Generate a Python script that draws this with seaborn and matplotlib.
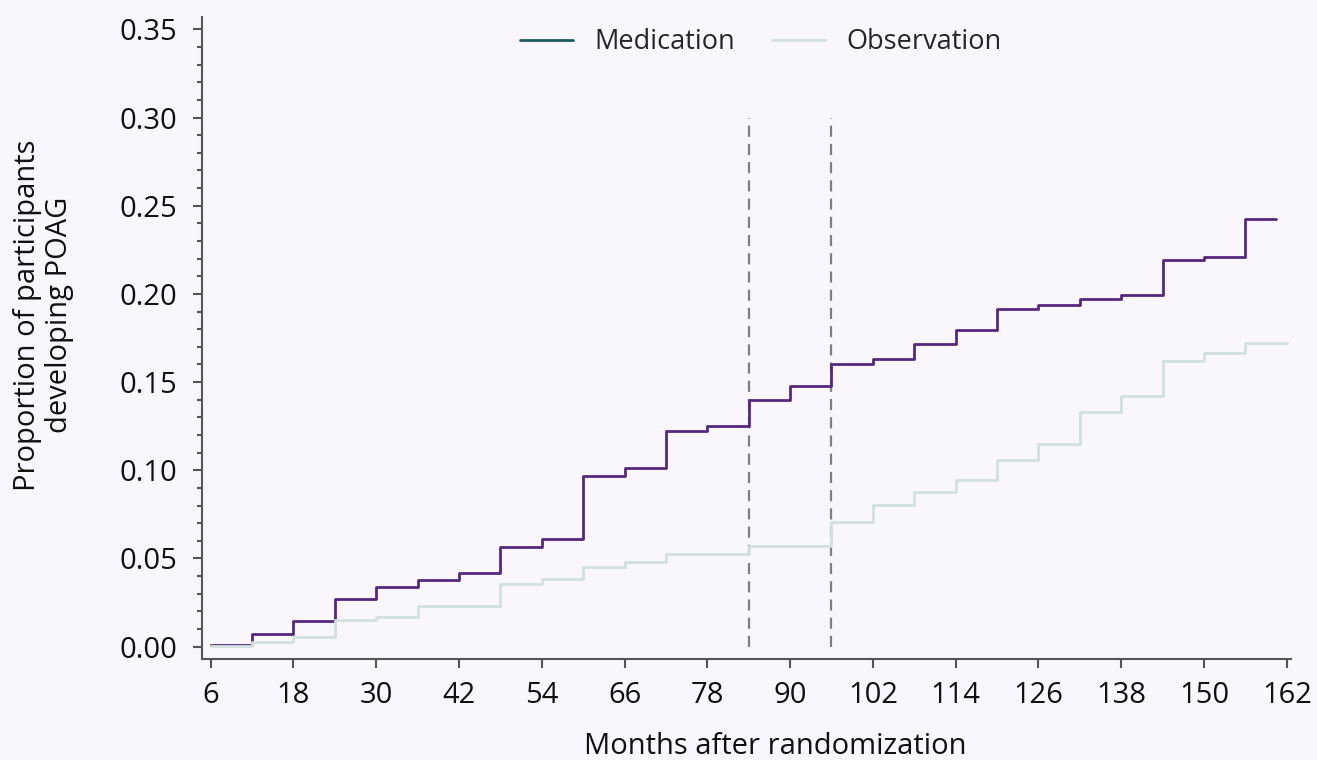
import numpy as np
import pandas as pd
import matplotlib
matplotlib.use("Agg")
import matplotlib.pyplot as plt
from matplotlib.lines import Line2D
from matplotlib.ticker import MultipleLocator
import seaborn as sns

# Cumulative proportion developing POAG, step values at each visit
months_med = [6, 12, 18, 24, 30, 36, 42, 48, 54, 60, 66, 72, 78, 84, 90, 96,
              102, 108, 114, 120, 126, 132, 138, 144, 150, 156, 160.5]
medication = [0.001, 0.0072, 0.0147, 0.027, 0.034, 0.038, 0.042, 0.0565, 0.061,
              0.0968, 0.1013, 0.1223, 0.1253, 0.1399, 0.148, 0.1601, 0.1633,
              0.1718, 0.1796, 0.1913, 0.1936, 0.1971, 0.1994, 0.2191, 0.2210,
              0.2427, 0.2427]

months_obs = [6, 12, 18, 24, 30, 36, 48, 54, 60, 66, 72, 84, 96, 102, 108, 114,
              120, 126, 132, 138, 144, 150, 156, 162]
observation = [0.0002, 0.0028, 0.0057, 0.0151, 0.0167, 0.0231, 0.0355, 0.0382,
               0.045, 0.0482, 0.0526, 0.0571, 0.0707, 0.0803, 0.0877, 0.0945,
               0.1057, 0.115, 0.1331, 0.1423, 0.162, 0.1667, 0.172, 0.172]

groups = ["Medication", "Observation"]
x_ticks = list(range(6, 163, 12))
y_ticks = [0.00, 0.05, 0.10, 0.15, 0.20, 0.25, 0.30, 0.35]
marker_months = [84, 96]

df = pd.concat([
    pd.DataFrame({"month": months_med, "proportion": medication, "group": groups[0]}),
    pd.DataFrame({"month": months_obs, "proportion": observation, "group": groups[1]}),
], ignore_index=True)

bg = "#f9f7fd"
text_color = "#111111"
line_colors = {"Medication": "#56287f", "Observation": "#d0e1de"}
legend_colors = {"Medication": "#1c5b5b", "Observation": "#d0e1de"}
fs = 21

sns.set_theme(style="ticks")
plt.rcParams["font.family"] = ["Open Sans", "DejaVu Sans"]

fig = plt.figure(figsize=(13.17, 7.6), dpi=100, facecolor=bg)
ax = fig.add_axes([0.1534, 0.1329, 0.8269, 0.8447])
ax.set_facecolor(bg)

sns.lineplot(data=df, x="month", y="proportion", hue="group", hue_order=groups,
             palette=line_colors, drawstyle="steps-post", linewidth=2.0,
             legend=False, ax=ax)

for m in marker_months:
    ax.plot([m, m], [0.0, 0.30], color="#7f7f7f", linewidth=1.6,
            dashes=(5.0, 3.2), zorder=1)

ax.set_xlim(4.75, 162.62)
ax.set_ylim(-0.007, 0.357)
ax.set_xticks(x_ticks)
ax.set_yticks(y_ticks)
ax.set_yticklabels([f"{v:.2f}" for v in y_ticks])
ax.yaxis.set_minor_locator(MultipleLocator(0.01))

for side in ["top", "right"]:
    ax.spines[side].set_visible(False)
for side in ["left", "bottom"]:
    ax.spines[side].set_color("#555555")
    ax.spines[side].set_linewidth(1.5)

ax.tick_params(axis="both", which="major", length=6.5, width=1.5,
               color="#555555", labelsize=fs, labelcolor=text_color)
ax.tick_params(axis="y", which="major", pad=11)
ax.tick_params(axis="x", which="major", pad=9)
ax.tick_params(axis="y", which="minor", length=3.8, width=1.5, color="#555555")

ax.set_xlabel("Months after randomization", fontsize=fs, color=text_color)
ax.set_ylabel("Proportion of participants\ndeveloping POAG", fontsize=fs,
              color=text_color, linespacing=1.12)
ax.xaxis.set_label_coords(0.526, -0.113)
ax.yaxis.set_label_coords(-0.118, 0.536)

handles = [Line2D([0], [0], color=legend_colors[g], linewidth=2.0) for g in groups]
ax.legend(handles, groups, loc="center", bbox_to_anchor=(0.513, 0.961), ncol=2,
          frameon=False, fontsize=19.5, handlelength=1.95, handletextpad=0.8,
          columnspacing=1.35)

fig.savefig("out.png", dpi=100, facecolor=bg)
